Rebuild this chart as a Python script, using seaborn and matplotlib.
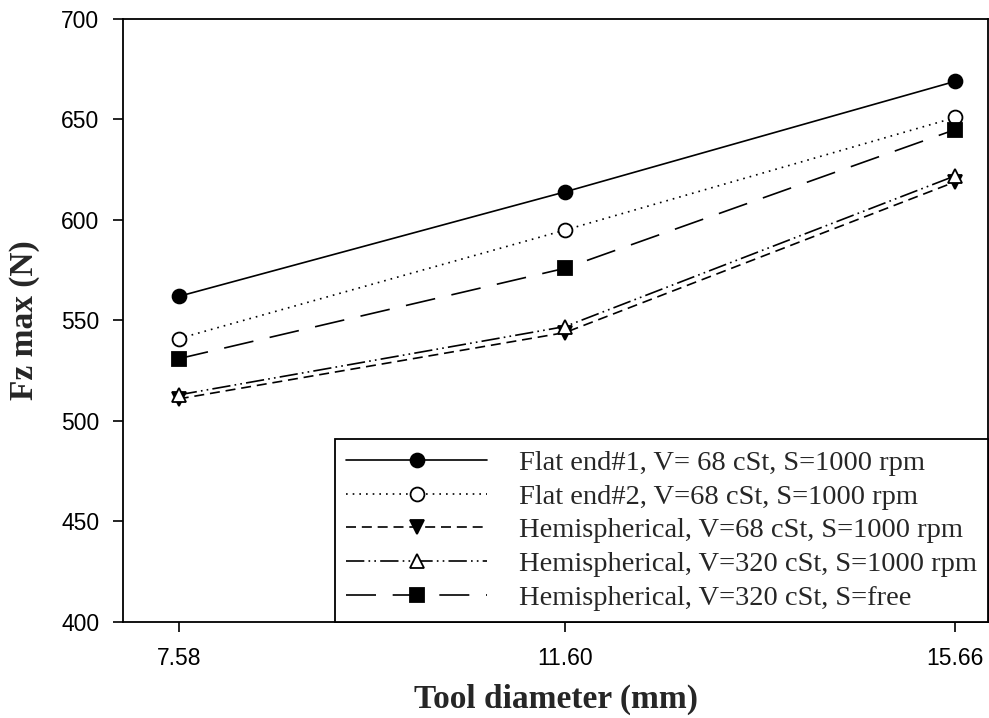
import matplotlib
matplotlib.use("Agg")
import matplotlib.pyplot as plt
import seaborn as sns
import pandas as pd

diameters = [7.58, 11.60, 15.66]
tick_labels = ["7.58", "11.60", "15.66"]
series_names = [
    "Flat end#1, V= 68 cSt, S=1000 rpm",
    "Flat end#2, V=68 cSt, S=1000 rpm",
    "Hemispherical, V=68 cSt, S=1000 rpm",
    "Hemispherical, V=320 cSt, S=1000 rpm",
    "Hemispherical, V=320 cSt, S=free",
]
flat1 = [562, 614, 669]
flat2 = [541, 595, 651]
hemi68 = [511, 544, 619]
hemi320 = [513, 547, 622]
hemi320free = [531, 576, 645]
values = [flat1, flat2, hemi68, hemi320, hemi320free]

sns.set_theme(style="ticks")
plt.rcParams["font.family"] = ["Liberation Sans", "DejaVu Sans"]

fig = plt.figure(figsize=(9.89, 7.18), dpi=100)
ax = fig.add_axes([123 / 989, 1 - 622 / 718, (988 - 123) / 989, (622 - 19) / 718])

lw = 1.2
styles = [
    dict(marker="o", markerfacecolor="black", dashes=None),
    dict(marker="o", markerfacecolor="white", dashes=(1, 3)),
    dict(marker="v", markerfacecolor="black", dashes=(6, 3.5)),
    dict(marker="^", markerfacecolor="white", dashes=(11, 2.5, 1, 2.5, 1, 2.5)),
    dict(marker="s", markerfacecolor="black", dashes=(18, 10)),
]

for name, vals, st in zip(series_names, values, styles):
    df = pd.DataFrame({"d": diameters, "f": vals})
    kw = dict(color="black", linewidth=lw, marker=st["marker"], markersize=10,
              markerfacecolor=st["markerfacecolor"], markeredgecolor="black",
              markeredgewidth=1.3, label=name)
    sns.lineplot(data=df, x="d", y="f", ax=ax, **kw)
    line = ax.get_lines()[-1]
    if st["dashes"] is not None:
        line.set_dashes(st["dashes"])

ax.set_xlim(7.0, 16.0)
ax.set_ylim(400, 700)
ax.set_xticks(diameters)
ax.set_xticklabels(tick_labels)
ax.set_yticks([400, 450, 500, 550, 600, 650, 700])
for s in ax.spines.values():
    s.set_color("black")
    s.set_linewidth(1.3)
ax.tick_params(axis="both", direction="out", length=7, width=1.2, colors="black",
               labelsize=16.5, pad=10)
ax.tick_params(axis="x", pad=11)

ax.set_xlabel("Tool diameter (mm)", family=["Liberation Serif"], fontweight="bold",
              fontsize=24, labelpad=10)
ax.set_ylabel("Fz max (N)", family=["Liberation Serif"], fontweight="bold",
              fontsize=24, labelpad=15)

leg = ax.legend(loc="lower right", bbox_to_anchor=(1.0, 0.0), borderaxespad=0,
                frameon=True, fancybox=False, shadow=False, edgecolor="black",
                prop={"family": "Liberation Serif", "size": 20.5},
                handlelength=4.95, handletextpad=1.1, labelspacing=0.27,
                borderpad=0.4, framealpha=1)
leg.get_frame().set_linewidth(1.3)

fig.savefig("out.png", dpi=100)
